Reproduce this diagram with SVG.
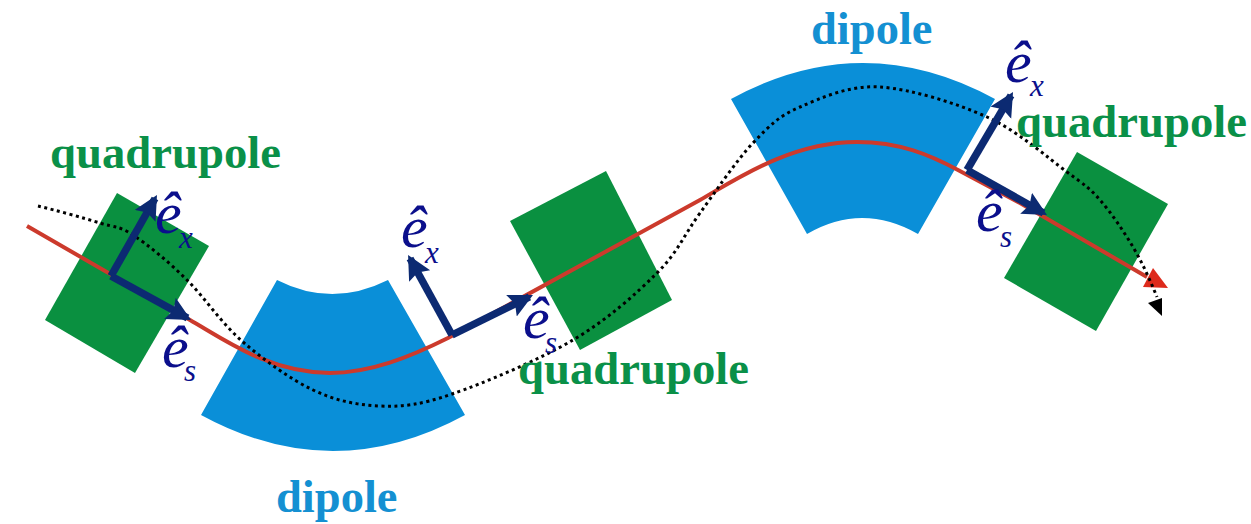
<svg xmlns="http://www.w3.org/2000/svg" width="1251" height="524" viewBox="0 0 1251 524">
<style>
.quad{fill:#0a9040}
.dip{fill:#0a8fd8}
.ql{font:bold 46.7px "Liberation Serif",serif;fill:#0a9048}
.dl{font:bold 46.5px "Liberation Serif",serif;fill:#1490d2}
.e{font:italic 60px "Liberation Serif",serif;fill:#0b0f8c}
.sub{font:italic 31px "Liberation Serif",serif;fill:#0b0f8c}
.beam{fill:none;stroke:#cc3a2c;stroke-width:4}
.orbit{fill:none;stroke:#000;stroke-width:3;stroke-dasharray:3 3.5}
.axis{fill:none;stroke:#0c2a72;stroke-width:7.5}
</style>
<defs>
<marker id="a" markerUnits="userSpaceOnUse" markerWidth="30" markerHeight="30" refX="20" refY="12" orient="auto"><path d="M0 0L24 12L0 24L4 12z" fill="#0c2a72"/></marker>
</defs>
<rect width="1251" height="524" fill="#fff"/>
<g id="quad-1"><polygon class="quad" points="117,193 209,246 135,373 45,320"/></g>
<g id="quad-2"><polygon class="quad" points="510,221 606,171 672,300 580,350"/></g>
<g id="quad-3"><polygon class="quad" points="1077,152 1168,204 1096,331 1004,278"/></g>
<g id="dipole-1"><path class="dip" d="M277 280Q332 308 388 280L465 415Q333 487 201 415Z"/></g>
<g id="dipole-2"><path class="dip" d="M731 99Q863 27 995 99L918 234Q862 202 807 234Z"/></g>
<g id="connectors">
<path class="beam" d="M27 226L190 320C225 340 270 373 330 373C370 373 410 357 448 338L700 200C735 180 790 142 857 142C900 142 930 155 958 170L1020 203L1147 277"/>
<polygon points="1153,268 1168,288 1143,287" fill="#dd2a1c"/>
<path class="orbit" d="M38 206C55 210 84 218 100 223S118.500 225.500 133 235S169 262 187 280S222 324 243 342S290 379 313 390S357 405 380 406S420 405 452 394S539 360 573 340S636 294 657 273S684 235 700 213S736 161 753 143S779 116 800 107S849 85 880 87S956 103 987 117S1048 158 1067 172S1089 187.500 1100 200S1123.500 231 1133 247S1150 280 1157 297"/>
<polygon points="1162,298 1148,303 1162,316" fill="#000"/>
<path class="axis" d="M111 276L155 198.500" marker-end="url(#a)"/>
<path class="axis" d="M111 276L187.500 318" marker-end="url(#a)"/>
<path class="axis" d="M452 335L410 258.500" marker-end="url(#a)"/>
<path class="axis" d="M452 335L529.400 296.800" marker-end="url(#a)"/>
<path class="axis" d="M967 170L1011 95.400" marker-end="url(#a)"/>
<path class="axis" d="M967 170L1043.500 213" marker-end="url(#a)"/>
</g>
<g id="labels">
<text class="ql" x="50" y="168">quadrupole</text>
<text class="ql" x="518" y="384">quadrupole</text>
<text class="ql" x="1016" y="137">quadrupole</text>
<text class="dl" x="276" y="512">dipole</text>
<text class="dl" x="811" y="44">dipole</text>
<text class="e" x="155" y="233">ê</text><text class="sub" x="179" y="248">x</text>
<text class="e" x="162" y="367">ê</text><text class="sub" x="184" y="381">s</text>
<text class="e" x="401" y="247">ê</text><text class="sub" x="425" y="263">x</text>
<text class="e" x="523" y="338">ê</text><text class="sub" x="545" y="353">s</text>
<text class="e" x="1005" y="82">ê</text><text class="sub" x="1030" y="96">x</text>
<text class="e" x="976" y="231">ê</text><text class="sub" x="1000" y="247">s</text>
</g>
</svg>
